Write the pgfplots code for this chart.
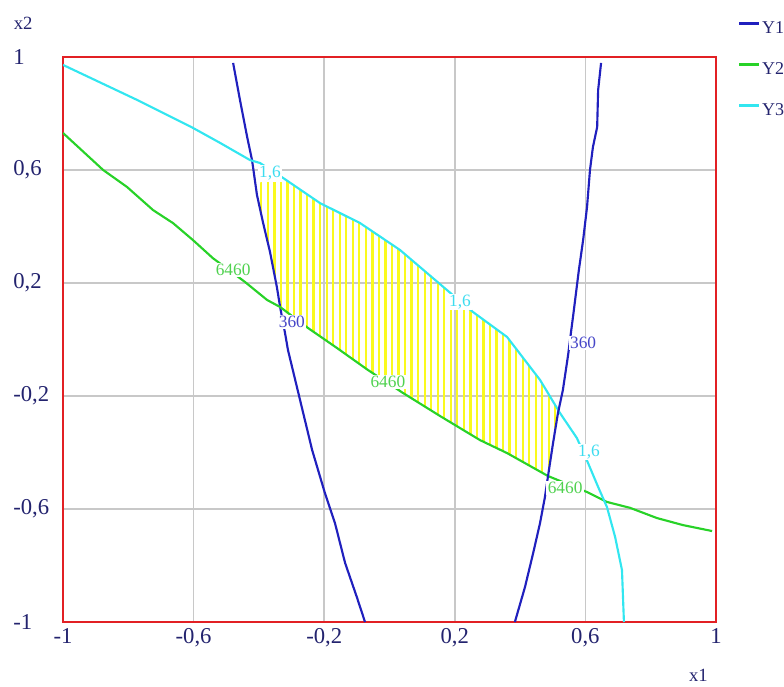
\documentclass[border=0pt]{standalone}
\usepackage{fontspec}
\setmainfont{Liberation Serif}
\usepackage{pgfplots}
\pgfplotsset{compat=1.18}
\usetikzlibrary{patterns.meta}
\definecolor{frameRed}{RGB}{226,32,36}
\definecolor{gridGray}{RGB}{200,200,200}
\definecolor{yOne}{RGB}{32,32,190}
\definecolor{yTwo}{RGB}{40,210,40}
\definecolor{yThree}{RGB}{50,230,240}
\definecolor{hatchY}{RGB}{250,250,30}
\definecolor{navy}{RGB}{35,35,110}
\definecolor{lblOne}{RGB}{70,70,200}
\definecolor{lblTwo}{RGB}{80,210,80}
\definecolor{lblThree}{RGB}{60,220,240}
\begin{document}
\begin{tikzpicture}
\useasboundingbox (-47.25pt,-48pt) rectangle (540.75pt,466.5pt);
\begin{axis}[
  at={(0pt,0pt)}, anchor=south west,
  scale only axis, width=489.75pt, height=423.75pt,
  xmin=-1, xmax=1, ymin=-1, ymax=1,
  xtick={-1,-0.6,-0.2,0.2,0.6,1},
  ytick={-1,-0.6,-0.2,0.2,0.6,1},
  xticklabels={{-1},{-0,6},{-0,2},{0,2},{0,6},{1}},
  yticklabels={{-1},{-0,6},{-0,2},{0,2},{0,6},{1}},
  major tick length=0pt,
  grid=major,
  major grid style={gridGray, line width=1.2pt},
  axis line style={frameRed, line width=1.6pt},
  tick label style={font=\fontsize{17}{18}\selectfont, text=navy},
  yticklabel style={anchor=west, inner xsep=0pt, xshift=-37.5pt},
  xticklabel style={yshift=-1pt},
  xlabel={x1},
  xlabel style={at={(axis description cs:0.973,-0.095)}, anchor=center, inner sep=0pt, font=\fontsize{14}{15}\selectfont, text=navy},
  ylabel={x2},
  ylabel style={at={(axis description cs:-0.061,1.060)}, rotate=-90, anchor=center, inner sep=0pt, font=\fontsize{14}{15}\selectfont, text=navy},
  legend style={at={(axis description cs:1.0322,1.065)}, anchor=north west,
    draw=none, fill=none, inner sep=0pt, row sep=18.25pt,
    font=\fontsize{13.5}{14}\selectfont, text=navy,
    nodes={inner sep=0pt, inner xsep=1pt, text height=9.5pt, text depth=3pt}},
  legend cell align=left,
  legend image code/.code={\draw[#1, line width=2.6pt] (0pt,4.2pt) -- (15pt,4.2pt);},
  clip=true,
]
% hatched feasible region
\addplot[draw=none, pattern={Lines[angle=90, distance=4.9pt, line width=1.7pt]}, pattern color=hatchY, forget plot] coordinates {
(-0.406,0.554) (-0.326,0.572) (-0.213,0.483) (-0.090,0.412) (0.032,0.317)
(0.176,0.175) (0.256,0.097) (0.360,0.009) (0.461,-0.143) (0.516,-0.253)
(0.501,-0.366) (0.485,-0.483) (0.360,-0.402) (0.277,-0.356) (0.155,-0.271)
(0.041,-0.189) (-0.066,-0.108) (-0.161,-0.030) (-0.250,0.041) (-0.329,0.104)
(-0.345,0.186) (-0.366,0.310) (-0.387,0.412) (-0.406,0.512)
} -- cycle;
% Y1 left branch
\addplot[yOne, line width=1.6pt] coordinates {
(-0.479,0.979) (-0.458,0.848) (-0.436,0.717) (-0.421,0.635) (-0.406,0.512)
(-0.387,0.412) (-0.366,0.310) (-0.345,0.186) (-0.335,0.115) (-0.320,0.023)
(-0.311,-0.037) (-0.274,-0.214) (-0.237,-0.391) (-0.198,-0.543) (-0.167,-0.650)
(-0.136,-0.791) (-0.100,-0.912) (-0.075,-1.000)
};
\addlegendentry{Y1}
% Y2
\addplot[yTwo, line width=1.6pt] coordinates {
(-1.000,0.731) (-0.877,0.600) (-0.804,0.540) (-0.724,0.458) (-0.663,0.412)
(-0.602,0.352) (-0.541,0.288) (-0.443,0.204) (-0.375,0.140) (-0.335,0.115)
(-0.250,0.041) (-0.161,-0.030) (-0.066,-0.108) (0.041,-0.189) (0.155,-0.271)
(0.277,-0.356) (0.360,-0.402) (0.485,-0.483) (0.605,-0.540) (0.666,-0.575)
(0.737,-0.596) (0.819,-0.632) (0.899,-0.657) (0.988,-0.678)
};
\addlegendentry{Y2}
% Y3
\addplot[yThree, line width=1.6pt] coordinates {
(-1.000,0.972) (-0.773,0.848) (-0.602,0.749) (-0.519,0.696) (-0.427,0.635)
(-0.397,0.625) (-0.326,0.572) (-0.213,0.483) (-0.090,0.412) (0.032,0.317)
(0.176,0.175) (0.256,0.097) (0.360,0.009) (0.461,-0.143) (0.522,-0.260)
(0.574,-0.349) (0.608,-0.437) (0.639,-0.522) (0.666,-0.593) (0.691,-0.699)
(0.712,-0.816) (0.718,-1.000)
};
\addlegendentry{Y3}
% Y1 right branch
\addplot[yOne, line width=1.6pt, forget plot] coordinates {
(0.648,0.979) (0.639,0.883) (0.636,0.752) (0.623,0.681) (0.614,0.600)
(0.605,0.469) (0.593,0.352) (0.580,0.246) (0.562,0.080) (0.556,0.027)
(0.547,-0.055) (0.531,-0.179) (0.516,-0.260) (0.501,-0.366) (0.485,-0.487)
(0.476,-0.558) (0.461,-0.650) (0.440,-0.756) (0.415,-0.876) (0.384,-1.000)
};
% contour labels
\begin{scope}[every node/.style={fill=white, inner sep=1pt, font=\fontsize{13}{14}\selectfont}]
\node[text=lblOne] at (axis cs:-0.299,0.062) {360};
\node[text=lblOne] at (axis cs:0.593,-0.012) {360};
\node[text=lblTwo] at (axis cs:-0.479,0.246) {6460};
\node[text=lblTwo] at (axis cs:-0.005,-0.150) {6460};
\node[text=lblTwo] at (axis cs:0.538,-0.526) {6460};
\node[text=lblThree] at (axis cs:-0.366,0.589) {1,6};
\node[text=lblThree] at (axis cs:0.216,0.133) {1,6};
\node[text=lblThree] at (axis cs:0.611,-0.398) {1,6};
\end{scope}
\end{axis}
\end{tikzpicture}
\end{document}
